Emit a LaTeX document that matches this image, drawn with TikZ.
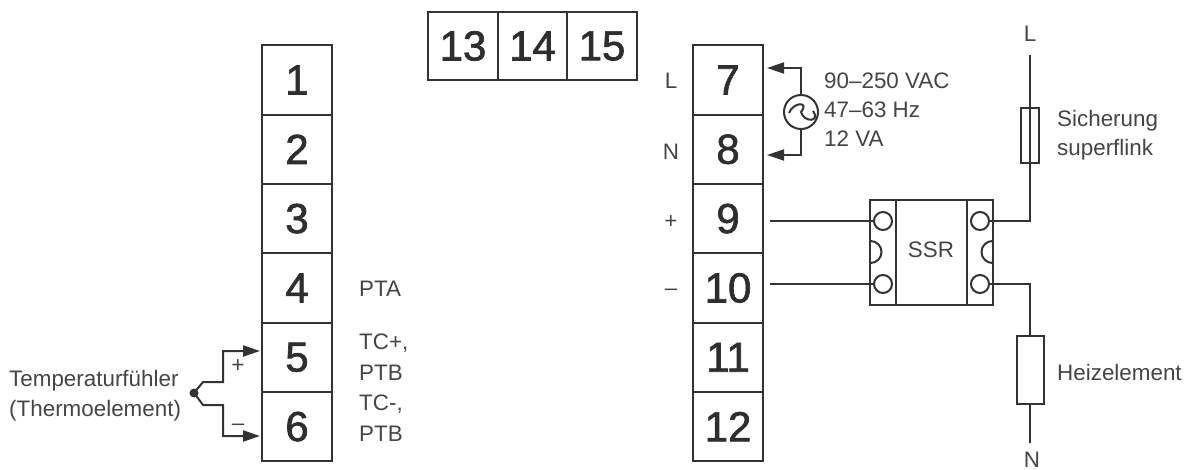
\documentclass[tikz,border=0pt]{standalone}
\usepackage{fontspec}
\setmainfont{Liberation Sans}
\newfontfamily\numfont[FakeBold=1.6]{Liberation Sans}
\usetikzlibrary{arrows.meta}
\definecolor{ink}{gray}{0.2}
\definecolor{txt}{gray}{0.27}
\tikzset{
  x=1pt,y=-1pt,
  term/.style={draw=ink,line width=2pt,minimum width=70pt,minimum height=69.3pt,inner sep=0pt,text=black!82,font=\numfont\fontsize{42}{42}\selectfont},
  topterm/.style={term,minimum width=69.6pt,minimum height=68pt},
  lab/.style={anchor=base west,inner sep=0pt,text=txt,font=\fontsize{22.4}{26}\selectfont},
  midlab/.style={lab,anchor=base},
  wire/.style={draw=ink,line width=2pt},
  arr/.style={wire,-{Triangle[length=17pt,width=11pt]}},
  blk/.style={draw=ink,line width=2pt,inner sep=0pt},
  port/.style={circle,draw=ink,line width=2pt,minimum size=18pt,inner sep=0pt,fill=white},
}
\begin{document}
\begin{tikzpicture}
\useasboundingbox (0,0) rectangle (1186,470);
% left terminal strip
\foreach \n/\y in {1/80,2/149.3,3/218.6,4/288,5/357.3,6/426.6}
  \node[term] (t\n) at (297,\y) {\n};
% right terminal strip
\foreach \n/\y in {7/80,8/149.3,9/218.6,10/288,11/357.3,12/426.6}
  \node[term] (t\n) at (728,\y) {\n};
% top strip
\foreach \n/\x in {13/463,14/532.5,15/602}
  \node[topterm] (t\n) at (\x,46) {\n};
% left labels
\node[lab] (lpta) at (359,297) {PTA};
\node[lab] (ltca) at (359,349) {TC+,};
\node[lab] (lpba) at (359,380) {PTB};
\node[lab] (ltcb) at (359,410) {TC-,};
\node[lab] (lpbb) at (359,441) {PTB};
\node[lab] (lth1) at (9,386) {Temperaturfühler};
\node[lab] (lth2) at (9,416) {(Thermoelement)};
\node[midlab] (lplus) at (238,372) {+};
\node[midlab] (lminus) at (238,430) {–};
% thermocouple
\node[circle,fill=ink,minimum size=9pt,inner sep=0pt] (tc) at (194,393) {};
\coordinate (tin5) at (260,351);
\coordinate (tin6) at (260,436);
\coordinate (tu) at (223,382);
\coordinate (td) at (223,405);
\draw[arr] (tc.center) -- (203,382) -- (tu) -- (223,351) -- (tin5);
\draw[arr] (tc.center) -- (203,405) -- (td) -- (223,436) -- (tin6);
% right side labels
\node[midlab] (ll) at (671,89) {L};
\node[midlab] (ln) at (671,160) {N};
\node[midlab] (lp) at (671,229) {+};
\node[midlab] (lm) at (671,296) {–};
\node[lab] (v1) at (824,89) {90–250 VAC};
\node[lab] (v2) at (824,118) {47–63 Hz};
\node[lab] (v3) at (824,147) {12 VA};
% AC source
\node[circle,draw=ink,line width=2pt,minimum size=34pt,inner sep=0pt,fill=white] (ac) at (801,112) {};
\draw[draw=ink,line width=2pt] (ac.center) ++(-12,1) .. controls +(4,-11) and +(9,-11) .. ++(12,-1) .. controls +(3,11) and +(8,11) .. ++(12,-1);
\coordinate (ai) at (767,68);
\coordinate (bi) at (767,155);
\draw[arr] (ac.north) -- (ac.north |- ai) -- (ai);
\draw[arr] (ac.south) -- (ac.south |- bi) -- (bi);
% SSR
\node[blk,minimum width=123pt,minimum height=105pt] (ssr) at (931.3,252.5) {};
\node[midlab] (ssrl) at (931,258) {SSR};
\draw[wire] (896,200) -- (896,305) (967,200) -- (967,305);
\draw[wire] (870.5,263) arc[start angle=90,end angle=-90,radius=11];
\draw[wire] (992.5,263) arc[start angle=90,end angle=270,radius=11];
\node[port] (p1) at (883,221) {};
\node[port] (p2) at (883,284) {};
\node[port] (p3) at (980,221) {};
\node[port] (p4) at (980,284) {};
\coordinate (w9) at (770,221);
\coordinate (w10) at (770,284);
\draw[wire] (w9) -- (p1.west);
\draw[wire] (w10) -- (p2.west);
% load
\coordinate (topl) at (1030,55);
\coordinate (botn) at (1030,443);
\node[blk,minimum width=18pt,minimum height=55pt] (fuse) at (1030,135.5) {};
\node[blk,minimum width=27pt,minimum height=68pt] (heat) at (1030,370) {};
\draw[wire] (topl) -- (1030,221) -- (p3.east);
\draw[wire] (p4.east) -- (1030,284) -- (heat.north);
\draw[wire] (heat.south) -- (botn);
\node[midlab] (lL) at (1030,42) {L};
\node[midlab] (lN) at (1032,467) {N};
\node[lab] (s1) at (1057,127) {Sicherung};
\node[lab] (s2) at (1057,156) {superflink};
\node[lab] (he) at (1057,380) {Heizelement};
\end{tikzpicture}
\end{document}
